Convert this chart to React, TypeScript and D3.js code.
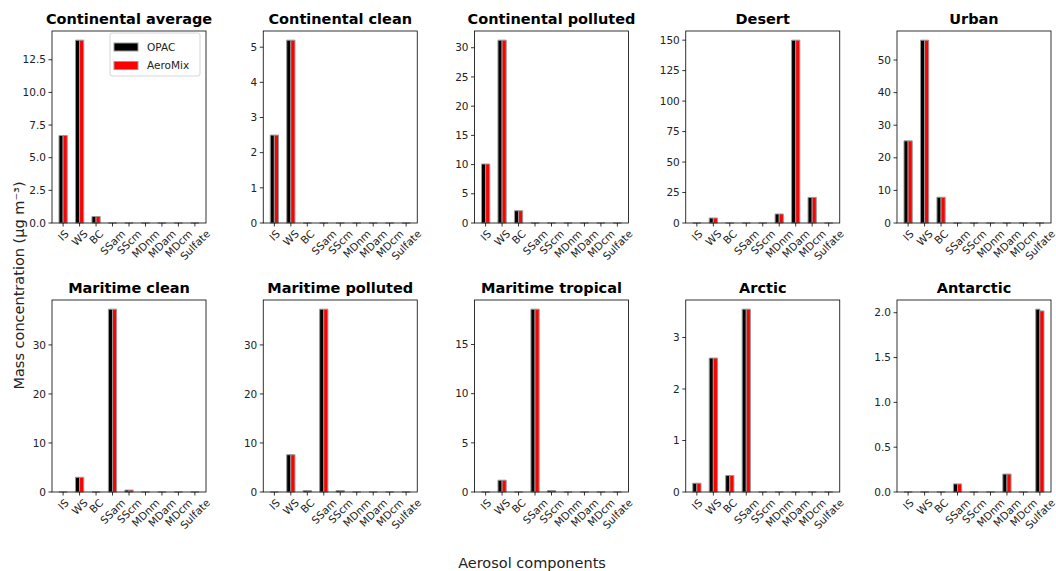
import React from 'react'
import * as d3 from 'd3'

const components = ['IS', 'WS', 'BC', 'SSam', 'SScm', 'MDnm', 'MDam', 'MDcm', 'Sulfate']

const titles = [
  'Continental average', 'Continental clean', 'Continental polluted', 'Desert', 'Urban',
  'Maritime clean', 'Maritime polluted', 'Maritime tropical', 'Arctic', 'Antarctic',
]

// mass concentrations (ug m-3), one row per aerosol type, in the order of components
const opac = [
  [6.7, 14.0, 0.5, 0, 0, 0, 0, 0, 0],
  [2.5, 5.2, 0, 0, 0, 0, 0, 0, 0],
  [10.1, 31.3, 2.1, 0, 0, 0, 0, 0, 0],
  [0, 4.1, 0, 0, 0, 7.4, 150, 21, 0],
  [25.2, 56.1, 7.9, 0, 0, 0, 0, 0, 0],
  [0, 3.0, 0, 37.3, 0.4, 0, 0, 0, 0],
  [0, 7.6, 0.3, 37.3, 0.3, 0, 0, 0, 0],
  [0, 1.2, 0, 18.6, 0.15, 0, 0, 0, 0],
  [0.17, 2.6, 0.32, 3.55, 0, 0, 0, 0, 0],
  [0, 0, 0, 0.09, 0, 0, 0.2, 0, 2.04],
]
const aeromix = [
  [6.7, 14.0, 0.5, 0, 0, 0, 0, 0, 0],
  [2.5, 5.2, 0, 0, 0, 0, 0, 0, 0],
  [10.1, 31.3, 2.1, 0, 0, 0, 0, 0, 0],
  [0, 4.1, 0, 0, 0, 7.4, 150, 21, 0],
  [25.2, 56.1, 7.9, 0, 0, 0, 0, 0, 0],
  [0, 3.0, 0, 37.3, 0.4, 0, 0, 0, 0],
  [0, 7.6, 0.3, 37.3, 0.3, 0, 0, 0, 0],
  [0, 1.2, 0, 18.6, 0.15, 0, 0, 0, 0],
  [0.17, 2.6, 0.32, 3.55, 0, 0, 0, 0, 0],
  [0, 0, 0, 0.09, 0, 0, 0.2, 0, 2.02],
]

const yTicks = [
  [0, 2.5, 5, 7.5, 10, 12.5],
  [0, 1, 2, 3, 4, 5],
  [0, 5, 10, 15, 20, 25, 30],
  [0, 25, 50, 75, 100, 125, 150],
  [0, 10, 20, 30, 40, 50],
  [0, 10, 20, 30],
  [0, 10, 20, 30],
  [0, 5, 10, 15],
  [0, 1, 2, 3],
  [0, 0.5, 1, 1.5, 2],
]

const series = ['OPAC', 'AeroMix']
const colors = ['#000000', '#ff0000']

const W = 1056
const H = 571
const FONT = '"DejaVu Sans", sans-serif'
const panelLeft = 52
const panelStep = 211.25
const panelW = 154
const panelH = 192
const rowTop = [31, 300]

let ctx: CanvasRenderingContext2D | null = null
const textWidth = (s: string, size: number) => {
  if (!ctx) ctx = document.createElement('canvas').getContext('2d')
  if (!ctx) return s.length * size * 0.6
  ctx.font = `${size}px "DejaVu Sans"`
  return ctx.measureText(s).width
}

const Panel = ({ idx }: { idx: number }) => {
  const col = idx % 5
  const row = Math.floor(idx / 5)
  const left = panelLeft + col * panelStep
  const top = rowTop[row]

  const x = d3.scaleLinear().domain([-0.675, 8.675]).range([0, panelW])
  const ymax = (d3.max([...opac[idx], ...aeromix[idx]]) as number) * 1.05
  const y = d3.scaleLinear().domain([0, ymax]).range([panelH, 0])
  const ticks = yTicks[idx]
  const decimals = ticks.some(t => t % 1 !== 0) ? 1 : 0

  const barPath = (x0: number, x1: number, v: number) => {
    const y0 = y(0), y1 = y(v)
    return `M${x0},${y0}L${x0},${y1}L${x1},${y1}L${x1},${y0}Z`
  }

  return (
    <g transform={`translate(${left},${top})`}>
      <text x={panelW / 2} y={-7} textAnchor="middle" fontSize={14.5} fontWeight="bold" fontFamily={FONT}>
        {titles[idx]}
      </text>
      {[opac[idx], aeromix[idx]].map((vals, s) =>
        vals.map((v, i) => (
          <path
            key={`${s}-${i}`}
            d={s === 0 ? barPath(x(i - 0.25), x(i), v) : barPath(x(i), x(i + 0.25), v)}
            fill={colors[s]}
            stroke="#999"
            strokeWidth={1}
          />
        ))
      )}
      <rect x={0} y={0} width={panelW} height={panelH} fill="none" stroke="#000" strokeWidth={0.8} />
      {ticks.map((t, i) => (
        <g key={i} transform={`translate(0,${y(t)})`}>
          <line x1={-3.5} x2={0} stroke="#000" strokeWidth={0.8} />
          <text x={-6} dy="0.35em" textAnchor="end" fontSize={10.5} fontFamily={FONT} fill="#222">
            {t.toFixed(decimals)}
          </text>
        </g>
      ))}
      {components.map((c, i) => {
        const cx = x(i)
        const w = textWidth(c, 10.5)
        const cy = panelH + 5 + (0.7071 * (w + 10.5)) / 2
        return (
          <g key={c}>
            <line x1={cx} x2={cx} y1={panelH} y2={panelH + 3.5} stroke="#000" strokeWidth={0.8} />
            <text
              x={cx}
              y={cy}
              textAnchor="middle"
              dominantBaseline="central"
              transform={`rotate(-45,${cx},${cy})`}
              fontSize={10.5}
              fontFamily={FONT}
              fill="#222"
            >
              {c}
            </text>
          </g>
        )
      })}
      {idx === 0 && (
        <g transform={`translate(58,2)`}>
          <rect x={0} y={0} width={90} height={43} rx={2} fill="#fff" fillOpacity={0.8} stroke="#ccc" strokeWidth={0.8} />
          {series.map((s, i) => (
            <g key={s} transform={`translate(0,${14 + i * 18.5})`}>
              <rect x={4} y={-4} width={24} height={8} fill={colors[i]} stroke="#999" strokeWidth={1} />
              <text x={37} dy="0.35em" fontSize={10.5} fontFamily={FONT} fill="#222">{s}</text>
            </g>
          ))}
        </g>
      )}
    </g>
  )
}

export default function App() {
  return (
    <svg
      width={W}
      height={H}
      style={{ display: 'block', background: '#fff', position: 'absolute', left: 0, top: 0 }}
    >
      {titles.map((_, i) => <Panel key={i} idx={i} />)}
      <text
        transform={`translate(19,${H / 2}) rotate(-90)`}
        textAnchor="middle"
        dy="0.35em"
        fontSize={14.5}
        fontFamily={FONT}
        fill="#222"
      >
        Mass concentration (µg m⁻³)
      </text>
      <text x={532} y={568} textAnchor="middle" fontSize={14.5} fontFamily={FONT} fill="#222">
        Aerosol components
      </text>
    </svg>
  )
}
